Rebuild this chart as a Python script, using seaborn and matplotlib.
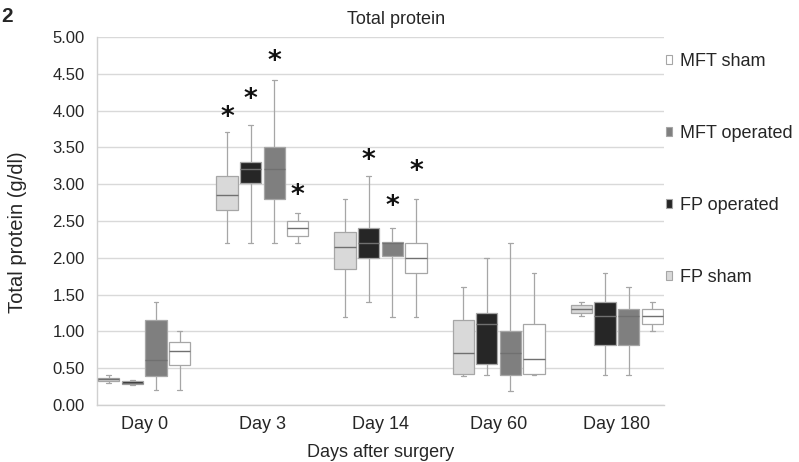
import numpy as np
import pandas as pd
import matplotlib
matplotlib.use("Agg")
import matplotlib.pyplot as plt
from matplotlib.patches import Patch
import seaborn as sns

# ---------------- data (five-number summaries) ----------------
days = ["Day 0", "Day 3", "Day 14", "Day 60", "Day 180"]
groups = ["FP sham", "FP operated", "MFT operated", "MFT sham"]

# each entry: [min, q1, median, q3, max]
fp_sham = [[0.30, 0.33, 0.35, 0.37, 0.41],
           [2.20, 2.65, 2.86, 3.11, 3.71],
           [1.20, 1.85, 2.14, 2.35, 2.80],
           [0.40, 0.42, 0.70, 1.15, 1.60],
           [1.21, 1.255, 1.30, 1.355, 1.40]]
fp_operated = [[0.27, 0.29, 0.30, 0.32, 0.34],
               [2.20, 3.01, 3.21, 3.30, 3.81],
               [1.395, 2.00, 2.20, 2.40, 3.11],
               [0.41, 0.557, 1.105, 1.245, 2.00],
               [0.41, 0.81, 1.205, 1.40, 1.80]]
mft_operated = [[0.20, 0.40, 0.61, 1.155, 1.395],
                [2.20, 2.80, 3.21, 3.51, 4.41],
                [1.20, 2.03, 2.20, 2.22, 2.40],
                [0.19, 0.41, 0.70, 1.00, 2.20],
                [0.41, 0.81, 1.205, 1.31, 1.60]]
mft_sham = [[0.20, 0.55, 0.73, 0.85, 1.00],
            [2.20, 2.30, 2.40, 2.50, 2.61],
            [1.20, 1.80, 2.00, 2.20, 2.80],
            [0.41, 0.42, 0.63, 1.10, 1.80],
            [1.00, 1.10, 1.205, 1.30, 1.40]]

# significance stars: (day, group, y value)
star_days = ["Day 3", "Day 3", "Day 3", "Day 3", "Day 14", "Day 14", "Day 14"]
star_groups = ["FP sham", "FP operated", "MFT operated", "MFT sham",
               "FP operated", "MFT operated", "MFT sham"]
star_values = [3.90, 4.14, 4.66, 2.84, 3.315, 2.69, 3.16]

y_ticks = [0.0, 0.5, 1.0, 1.5, 2.0, 2.5, 3.0, 3.5, 4.0, 4.5, 5.0]
legend_order = ["MFT sham", "MFT operated", "FP operated", "FP sham"]

# ---------------- build long table ----------------
summaries = {"FP sham": fp_sham, "FP operated": fp_operated,
             "MFT operated": mft_operated, "MFT sham": mft_sham}
rows = []
for g in groups:
    for d, five in zip(days, summaries[g]):
        for v in five:
            rows.append({"day": d, "group": g, "value": v})
df = pd.DataFrame(rows)

colors = {"FP sham": "#d9d9d9", "FP operated": "#262626",
          "MFT operated": "#7f7f7f", "MFT sham": "#ffffff"}

# ---------------- plot ----------------
sns.set_style("white")
plt.rcParams["font.family"] = ["Liberation Sans", "DejaVu Sans"]

fig = plt.figure(figsize=(7.99, 4.62), dpi=100)
ax = fig.add_axes([97 / 799, 1 - 405 / 462, (664 - 97) / 799, (405 - 37) / 462])

sns.boxplot(data=df, x="day", y="value", hue="group", order=days,
            hue_order=groups, palette=colors, whis=(0, 100), width=0.8,
            gap=0.1, linecolor="#a6a6a6", linewidth=0.9, showfliers=False,
            medianprops={"color": "#707070", "linewidth": 1.0},
            capwidths=0.04, legend=False, ax=ax, zorder=3)

# stars
for d, g, v in zip(star_days, star_groups, star_values):
    xpos = days.index(d) - 0.4 + 0.2 * (groups.index(g) + 0.5)
    ax.text(xpos, v, "*", ha="center", va="center", fontsize=19,
            fontweight="bold", color="#111111", family="DejaVu Sans",
            zorder=5)

ax.set_xlim(-0.4, 4.4)
ax.set_ylim(0, 5.0)
ax.set_yticks(y_ticks)
ax.set_yticklabels([f"{t:.2f}" for t in y_ticks])
ax.yaxis.grid(True, color="#d9d9d9", linewidth=1.0, zorder=0)
ax.set_axisbelow(True)
ax.set_xticks(range(len(days)))
ax.set_xticklabels(days)
ax.set_xticks(np.arange(-0.4, 4.41, 0.2), minor=True)
ax.tick_params(axis="x", which="major", length=0, pad=8, labelsize=13)
ax.tick_params(axis="x", which="minor", length=3, color="#d0d0d0", width=0.8)
ax.tick_params(axis="y", length=3, color="#d0d0d0", width=0.8, pad=6,
               labelsize=12)
for s in ["top", "right"]:
    ax.spines[s].set_visible(False)
for s in ["left", "bottom"]:
    ax.spines[s].set_color("#d0d0d0")
    ax.spines[s].set_linewidth(1.0)

ax.set_xlabel("Days after surgery", fontsize=13, labelpad=8)
ax.set_ylabel("")
fig.text(18 / 799, 1 - 232 / 462, "Total protein (g/dl)", rotation=90,
         ha="center", va="center", fontsize=14.5)
fig.text(396 / 799, 1 - 20 / 462, "Total protein", ha="center", va="center",
         fontsize=13)
fig.text(1 / 799, 1 - 17 / 462, "2", ha="left", va="center", fontsize=15,
         fontweight="bold")

handles = [Patch(facecolor=colors[g], edgecolor="#a6a6a6", linewidth=0.8)
           for g in legend_order]
fig.legend(handles, legend_order, loc="upper left",
           bbox_to_anchor=(666 / 799, 1 - 53 / 462), frameon=False,
           fontsize=13, handlelength=0.35, handleheight=0.35,
           handletextpad=0.45, labelspacing=3.05, borderpad=0,
           borderaxespad=0)

fig.savefig("out.png", dpi=100)
